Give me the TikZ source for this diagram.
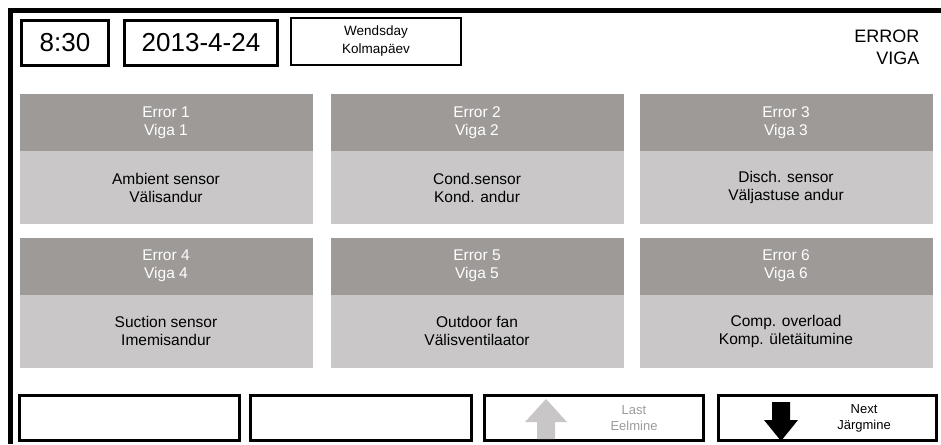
\documentclass[tikz,border=0pt]{standalone}
\usepackage{fontspec}
\setmainfont{Liberation Sans}
\definecolor{hdrGray}{HTML}{9E9A98}
\definecolor{bodyGray}{HTML}{C9C7C7}
\definecolor{dimGray}{HTML}{9B9B9B}
\definecolor{arrowGray}{HTML}{C8C6C6}
\tikzset{
  frameline/.style={line width=4.5pt},
  clockbox/.style={draw, line width=3pt, inner sep=0pt, minimum height=45pt, font=\fontsize{26}{30}\selectfont},
  errhead/.style={fill=hdrGray, text=white, minimum width=293pt, minimum height=57pt, inner sep=0pt, align=center, font=\fontsize{15.5}{18}\selectfont},
  errbody/.style={fill=bodyGray, minimum width=293pt, minimum height=73pt, inner sep=0pt, align=center, font=\fontsize{15.5}{18}\selectfont},
  softkey/.style={draw, line width=3pt, minimum height=45pt, inner sep=0pt},
  keylabel/.style={align=center, font=\fontsize{13}{16}\selectfont}
}

\begin{document}
\begin{tikzpicture}[x=1pt, y=-1pt]
    \useasboundingbox (0,0) rectangle (941,444);

    % Screen frame (open to the right and below)
    \draw[frameline] (10.5,444) -- (10.5,10.5) -- (941,10.5);

    % Status bar
    \node[clockbox, minimum width=87pt] (clock) at (65,43) {8:30};
    \node[clockbox, minimum width=153pt] (date) at (201,43) {2013-4-24};
    \node[draw, line width=2.5pt, minimum width=170pt, minimum height=47pt, inner sep=0pt, align=center, font=\fontsize{13.5}{18}\selectfont] (weekday) at (376,41.5) {Wendsday\\Kolmapäev};
    \node[anchor=east, align=right, font=\fontsize{18}{22}\selectfont] (title) at (923,47.5) {ERROR\\VIGA};

    % First row of errors
    \node[errhead] (head1) at (166,122.5) {Error 1\\Viga 1};
    \node[errbody] (body1) at (166,187.5) {Ambient sensor\\Välisandur};
    \node[errhead] (head2) at (477,122.5) {Error 2\\Viga 2};
    \node[errbody] (body2) at (477,187.5) {Cond.sensor\\Kond. andur};
    \node[errhead] (head3) at (786,122.5) {Error 3\\Viga 3};
    \node[errbody] (body3) at (786,187.5) {Disch. sensor\\Väljastuse andur};

    % Second row of errors
    \node[errhead] (head4) at (166,266) {Error 4\\Viga 4};
    \node[errbody] (body4) at (166,331) {Suction sensor\\Imemisandur};
    \node[errhead] (head5) at (477,266) {Error 5\\Viga 5};
    \node[errbody] (body5) at (477,331) {Outdoor fan\\Välisventilaator};
    \node[errhead] (head6) at (786,266) {Error 6\\Viga 6};
    \node[errbody] (body6) at (786,331) {Comp. overload\\Komp. ületäitumine};

    % Soft keys
    \node[softkey, minimum width=220pt] (key1) at (129.5,418) {};
    \node[softkey, minimum width=221pt] (key2) at (361,418) {};
    \node[softkey, minimum width=219pt] (keylast) at (594,418) {};
    \node[softkey, minimum width=218pt] (keynext) at (827.5,418) {};

    % Arrows on the paging keys
    \fill[arrowGray] (546,399) -- (567,422) -- (555,422) -- (555,439) -- (537,439) -- (537,422) -- (525,422) -- cycle;
    \fill[black] (772,402) -- (790,402) -- (790,420) -- (798,420) -- (781,441) -- (764,420) -- (772,420) -- cycle;
    \node[keylabel, text=dimGray] (lastlbl) at (634,418) {Last\\Eelmine};
    \node[keylabel] (nextlbl) at (864,418) {Next\\Järgmine};
\end{tikzpicture}
\end{document}
